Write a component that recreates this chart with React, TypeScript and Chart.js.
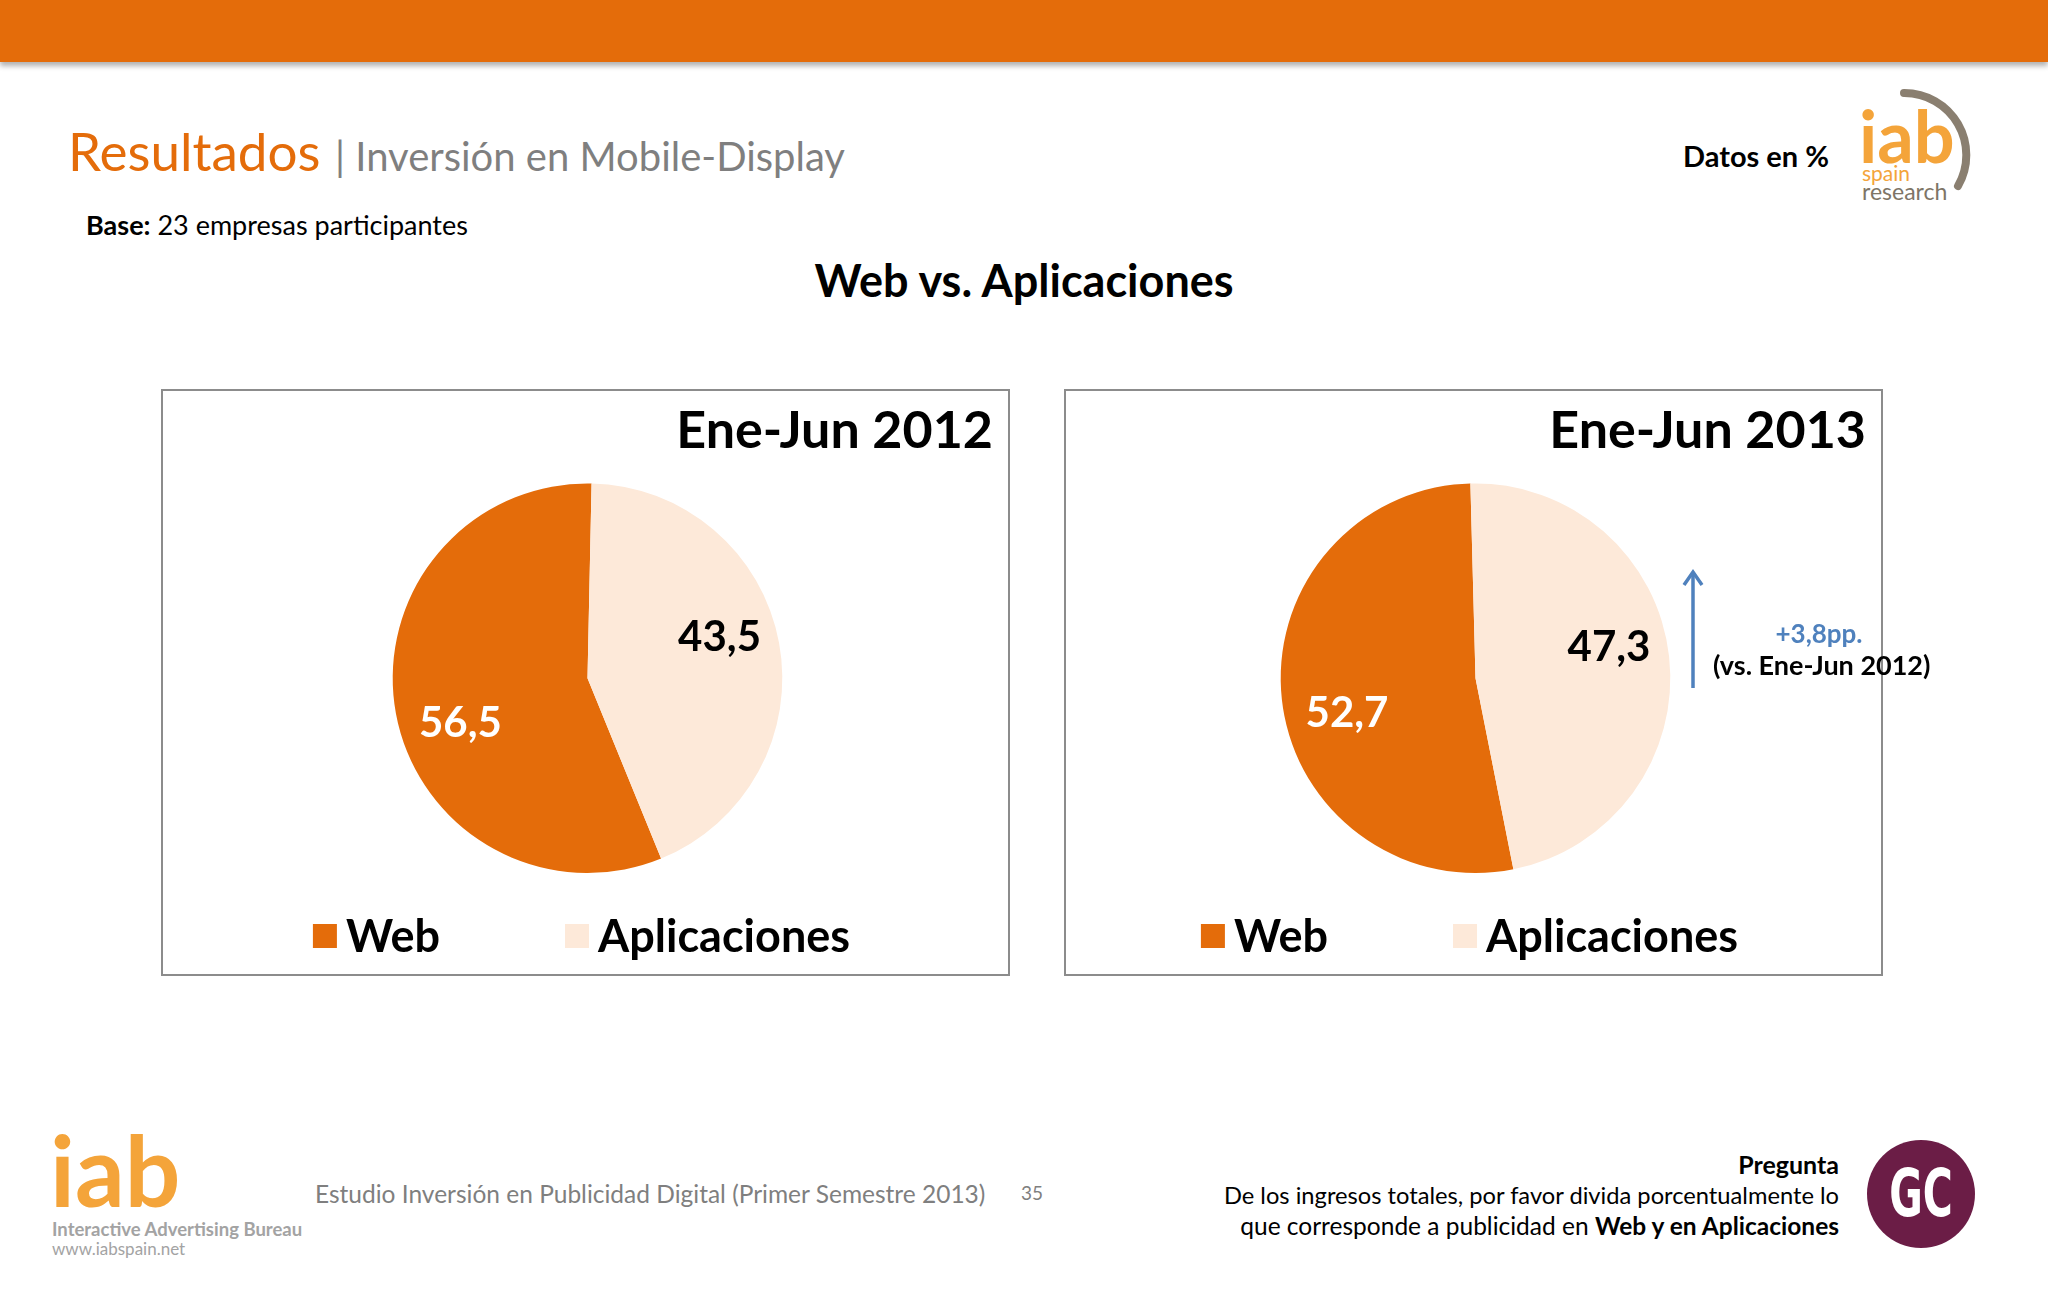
import React, { useEffect, useRef } from 'react';
import { Chart, registerables } from 'chart.js';

Chart.register(...registerables);

// ---- data ----
const categories = ['Web', 'Aplicaciones'];
const periods = ['Ene-Jun 2012', 'Ene-Jun 2013'];
const webShare = [56.5, 52.7];
const appShare = [43.5, 47.3];
const changeLabel = '+3,8pp.';
const changeNote = '(vs. Ene-Jun 2012)';

// ---- style ----
const FONT = "Lato, 'Open Sans', sans-serif";
const ORANGE = '#E46C0A';
const PEACH = '#FDE9D9';
const sliceColors = [ORANGE, PEACH];
const labelColors = ['#FFFFFF', '#000000'];
const labelNudgeY = [20, -16];
const rotationOffsets = [1.2, -1.5];

const fmt = (v: number) => v.toFixed(1).replace('.', ',');

const sliceLabels = {
  id: 'sliceLabels',
  afterDatasetsDraw(chart: any) {
    const ctx = chart.ctx;
    const meta = chart.getDatasetMeta(0);
    const data = chart.data.datasets[0].data as number[];
    ctx.save();
    ctx.font = `bold 42px ${FONT}`;
    ctx.textAlign = 'center';
    ctx.textBaseline = 'middle';
    meta.data.forEach((arc: any, i: number) => {
      const p = arc.getProps(['x', 'y', 'startAngle', 'endAngle', 'outerRadius'], true);
      const mid = (p.startAngle + p.endAngle) / 2;
      const r = p.outerRadius * 0.7;
      const x = p.x + Math.cos(mid) * r + (i === 0 ? 7 : -2);
      const y = p.y + Math.sin(mid) * r + labelNudgeY[i];
      ctx.fillStyle = labelColors[i];
      ctx.fillText(fmt(data[i]), x, y);
    });
    ctx.restore();
  },
};

const boxLegend = {
  id: 'boxLegend',
  afterDraw(chart: any) {
    const ctx = chart.ctx;
    const labels = chart.data.labels as string[];
    const colors = chart.data.datasets[0].backgroundColor as string[];
    const box = 24;
    const gapText = 9;
    const gapItem = 125;
    ctx.save();
    ctx.font = `bold 45px ${FONT}`;
    const widths = labels.map((l) => box + gapText + ctx.measureText(l).width);
    const total = widths.reduce((a, b) => a + b, 0) + gapItem * (labels.length - 1);
    let x = chart.width / 2 - total / 2 - 4;
    const y = chart.chartArea.bottom + 63;
    ctx.textBaseline = 'middle';
    ctx.textAlign = 'left';
    labels.forEach((l, i) => {
      ctx.fillStyle = colors[i];
      ctx.fillRect(x, y - box / 2, box, box);
      ctx.fillStyle = '#000';
      ctx.fillText(l, x + box + gapText, y + 1);
      x += widths[i] + gapItem;
    });
    ctx.restore();
  },
};

function PieChart({ index, left, width }: { index: number; left: number; width: number }) {
  const ref = useRef<HTMLCanvasElement>(null);
  useEffect(() => {
    const chart = new Chart(ref.current as HTMLCanvasElement, {
      type: 'pie',
      data: {
        labels: categories,
        datasets: [
          {
            data: [webShare[index], appShare[index]],
            backgroundColor: sliceColors,
            borderWidth: 0,
          },
        ],
      },
      options: {
        responsive: false,
        animation: false,
        rotation: appShare[index] * 3.6 + rotationOffsets[index],
        layout: { padding: { left: 21, right: 17, top: 0, bottom: 103 } },
        plugins: {
          title: {
            display: true,
            text: periods[index],
            align: 'end',
            color: '#000',
            font: { family: FONT, size: 52, weight: 'bold', lineHeight: 1.2 },
            padding: { top: 11, bottom: 21 },
          },
          legend: { display: false },
          tooltip: { enabled: false },
        },
      } as any,
      plugins: [sliceLabels, boxLegend],
    });
    return () => chart.destroy();
  }, [index]);
  return (
    <>
      <canvas
        ref={ref}
        width={width}
        height={587}
        style={{ position: 'absolute', left, top: 389, width, height: 587 }}
      />
      <div
        style={{
          position: 'absolute',
          left,
          top: 389,
          width,
          height: 587,
          boxSizing: 'border-box',
          border: '2px solid #8c8c8c',
          pointerEvents: 'none',
        }}
      />
    </>
  );
}

function T({
  x,
  base,
  size,
  children,
  color = '#000',
  bold = false,
  align = 'left',
  family = FONT,
}: any) {
  const style: any = {
    position: 'absolute',
    top: base - 0.987 * size,
    fontSize: size,
    lineHeight: `${1.2 * size}px`,
    fontFamily: family,
    fontWeight: bold ? 'bold' : 'normal',
    color,
    whiteSpace: 'nowrap',
  };
  if (align === 'right') style.right = 2048 - x;
  else if (align === 'center') {
    style.left = x - 600;
    style.width = 1200;
    style.textAlign = 'center';
  } else style.left = x;
  return <div style={style}>{children}</div>;
}

export default function App() {
  return (
    <div
      style={{
        position: 'absolute',
        left: 0,
        top: 0,
        width: 2048,
        height: 1300,
        background: '#fff',
        overflow: 'hidden',
        fontFamily: FONT,
      }}
    >
      {/* top bar */}
      <div
        style={{
          position: 'absolute',
          left: 0,
          top: 0,
          width: 2048,
          height: 62,
          background: ORANGE,
          boxShadow: '0 4px 5px rgba(0,0,0,0.3)',
        }}
      />

      <T x={68} base={171} size={53} color={ORANGE}>Resultados</T>
      <T x={335} base={171} size={40} color="#7F7F7F">| Inversión en Mobile-Display</T>
      <T x={86} base={236} size={27}>
        <b>Base:</b> 23 empresas participantes
      </T>
      <T x={1829} base={168} size={29} bold align="right">Datos en %</T>

      {/* top right logo */}
      <svg style={{ position: 'absolute', left: 1842, top: 80 }} width={140} height={140}>
        <path
          d="M 62 13 A 62 62 0 0 1 116 106"
          fill="none"
          stroke="#8A7F70"
          strokeWidth={8}
          strokeLinecap="round"
        />
      </svg>
      <T x={1859} base={163} size={72} bold color="#F4A43A">iab</T>
      <T x={1862} base={181} size={21} color="#F4A43A">spain</T>
      <T x={1862} base={201} size={23} color="#7E7566">research</T>

      <T x={1024} base={297} size={45} bold align="center">Web vs. Aplicaciones</T>

      <PieChart index={0} left={161} width={849} />
      <PieChart index={1} left={1064} width={819} />

      {/* change annotation */}
      <svg style={{ position: 'absolute', left: 1680, top: 560 }} width={30} height={140}>
        <line x1={13} y1={128} x2={13} y2={13} stroke="#4F81BD" strokeWidth={3.5} />
        <polyline points="4,25 13,12 22,25" fill="none" stroke="#4F81BD" strokeWidth={3.5} />
      </svg>
      <T x={1819} base={644} size={26} bold color="#4F81BD" align="center">{changeLabel}</T>
      <T x={1713} base={676} size={27} bold>{changeNote}</T>

      {/* footer left */}
      <T x={50} base={1208} size={98} bold color="#F4A43A">iab</T>
      <T x={52} base={1236} size={18.5} bold color="#A3A3A3">Interactive Advertising Bureau</T>
      <T x={52} base={1256} size={17} color="#A3A3A3">www.iabspain.net</T>
      <T x={315} base={1203} size={24.5} color="#7F7F7F">
        Estudio Inversión en Publicidad Digital (Primer Semestre 2013)
      </T>
      <T x={1021} base={1201} size={19} color="#7F7F7F">35</T>

      {/* footer right */}
      <T x={1839} base={1174} size={25} bold align="right">Pregunta</T>
      <T x={1839} base={1204} size={23.7} align="right">
        De los ingresos totales, por favor divida porcentualmente lo
      </T>
      <T x={1839} base={1235} size={24.5} align="right">
        que corresponde a publicidad en <b>Web y en Aplicaciones</b>
      </T>
      <div
        style={{
          position: 'absolute',
          left: 1867,
          top: 1140,
          width: 108,
          height: 108,
          borderRadius: '50%',
          background: '#6B1D46',
        }}
      />
      <div
        style={{
          position: 'absolute',
          left: 1867,
          top: 1140,
          width: 108,
          height: 108,
          color: '#fff',
          fontFamily: "'DejaVu Sans', sans-serif",
          fontWeight: 'bold',
          fontSize: 66,
          lineHeight: '108px',
          textAlign: 'center',
          transform: 'scaleX(0.62)',
        }}
      >
        GC
      </div>
    </div>
  );
}
